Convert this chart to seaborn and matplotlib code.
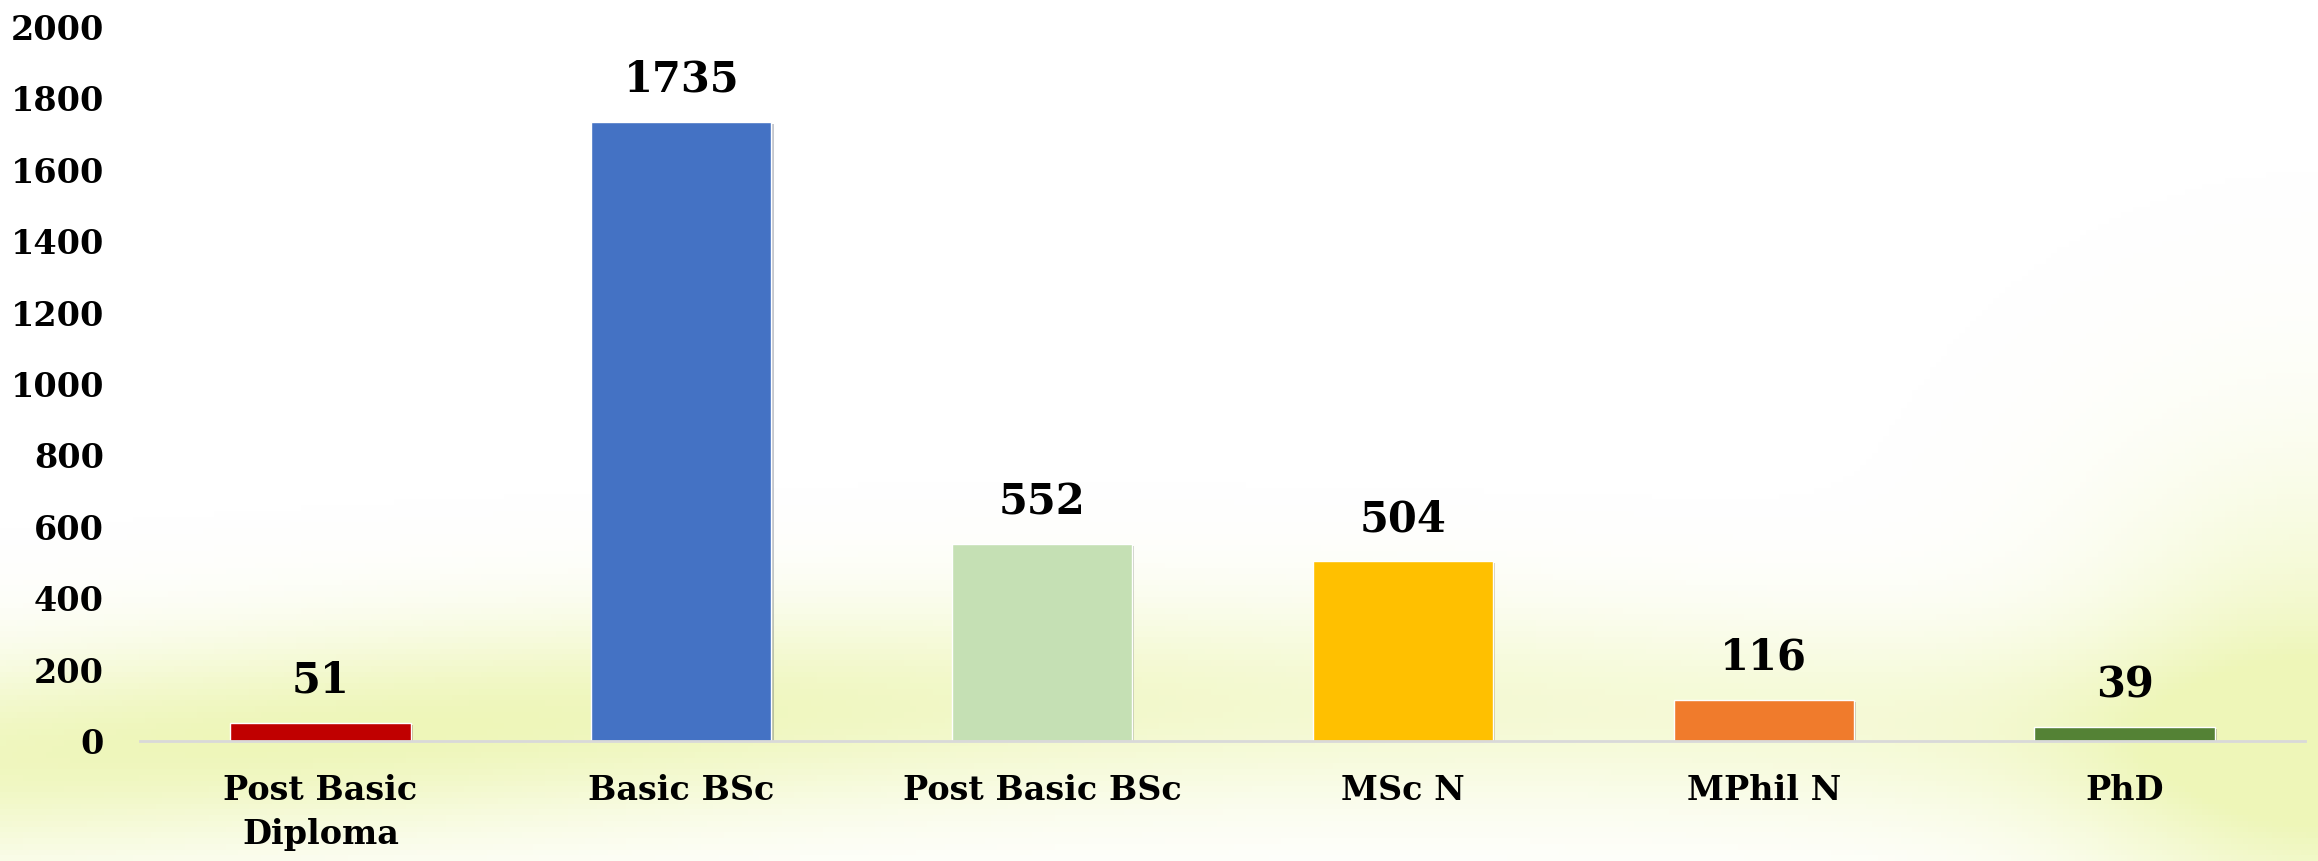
import numpy as np
import pandas as pd
import matplotlib.pyplot as plt
import matplotlib.patheffects as pe
import seaborn as sns

# ── DATA ─────────────────────────────────────────────
programmes = ["Post Basic\nDiploma", "Basic BSc", "Post Basic BSc", "MSc N", "MPhil N", "PhD"]
students = [51, 1735, 552, 504, 116, 39]
bar_colors = ["#C00000", "#4472C4", "#C5E0B4", "#FFC000", "#F07B2C", "#548235"]
y_ticks = [0, 200, 400, 600, 800, 1000, 1200, 1400, 1600, 1800, 2000]

df = pd.DataFrame({"Programme": programmes, "Students": students})

# ── SETUP ────────────────────────────────────────────
sns.set_style("white")
plt.rcParams["font.family"] = ["DejaVu Serif"]
plt.rcParams["font.weight"] = "bold"
plt.rcParams["text.color"] = "black"
plt.rcParams["xtick.color"] = "black"
plt.rcParams["ytick.color"] = "black"

fig = plt.figure(figsize=(23.18, 8.61), dpi=100)
fig.patch.set_facecolor("white")

# soft yellow-green wash behind the chart
bg = fig.add_axes([0, 0, 1, 1], zorder=0)
gx, gy = np.meshgrid(np.linspace(0, 1, 400), np.linspace(0, 1, 150))
band = np.exp(-((gy - 0.12 - 0.06 * np.sin(gx * 3.0)) / 0.12) ** 2)
band *= 0.55 + 0.45 * np.exp(-((gx - 0.15) / 0.35) ** 2)
corner = np.exp(-(((gx - 1.0) / 0.10) ** 2 + ((gy - 0.15) / 0.30) ** 2))
wash = np.clip(band + 0.8 * corner, 0, 1)
rgba = np.zeros(gx.shape + (4,))
rgba[..., 0] = 0.88
rgba[..., 1] = 0.94
rgba[..., 2] = 0.50
rgba[..., 3] = 0.55 * wash
bg.imshow(rgba, extent=[0, 1, 0, 1], origin="lower", aspect="auto")
bg.axis("off")

ax = fig.add_axes([0.0604, 0.1394, 0.934, 0.8292], zorder=1)
ax.patch.set_alpha(0)

# ── BARS ─────────────────────────────────────────────
sns.barplot(data=df, x="Programme", y="Students", hue="Programme",
            palette=dict(zip(programmes, bar_colors)), width=0.5,
            legend=False, saturation=1, ax=ax)

for bar in ax.patches:
    bar.set_path_effects([pe.SimplePatchShadow(offset=(1.5, -1.5), alpha=0.25), pe.Normal()])

for cont in ax.containers:
    ax.bar_label(cont, fmt="%d", padding=15, fontsize=30, fontweight="heavy", color="black")

ax.set_ylim(0, 2000)
ax.set_xlim(-0.5, 5.5)
ax.set_yticks(y_ticks)
ax.set_xlabel("")
ax.set_ylabel("")
ax.tick_params(axis="y", labelsize=24, length=0, pad=26)
ax.tick_params(axis="x", labelsize=24, length=0, pad=24)
for lbl in ax.get_xticklabels() + ax.get_yticklabels():
    lbl.set_fontweight("heavy")
for lbl in ax.get_xticklabels():
    lbl.set_linespacing(1.4)

sns.despine(ax=ax, left=True)
ax.spines["bottom"].set_color("#D9D9D9")
ax.spines["bottom"].set_linewidth(2)

plt.savefig("out.png", dpi=100)
